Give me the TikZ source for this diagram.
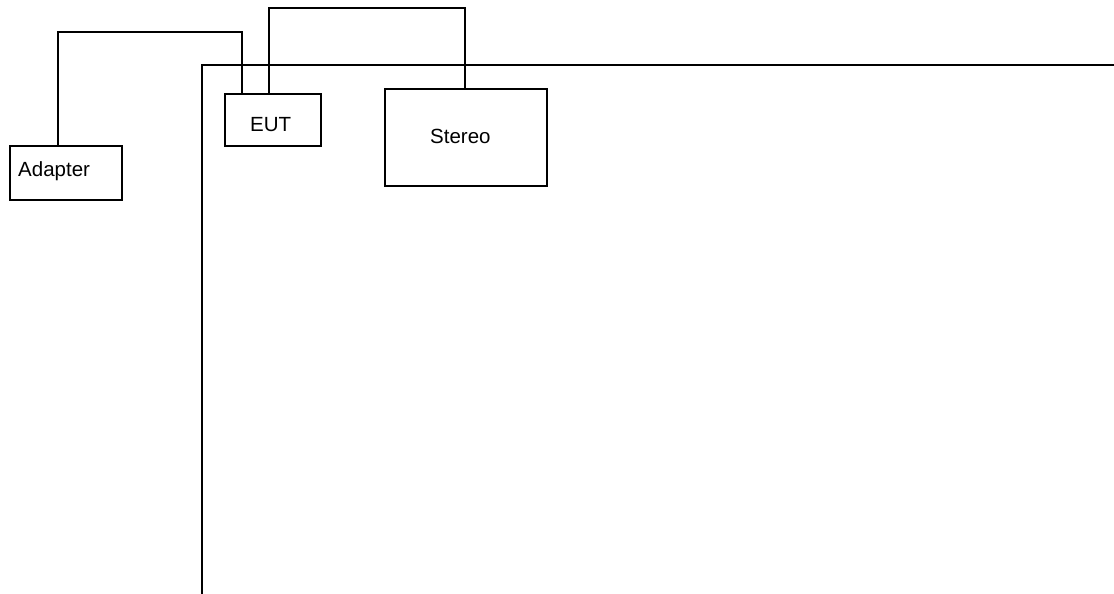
\documentclass[tikz,border=0pt]{standalone}
\usepackage{fontspec}
\setmainfont{Liberation Sans}
\begin{document}
\begin{tikzpicture}[x=1pt,y=-1pt,
  box/.style={draw, line width=1.5pt, inner sep=0pt, anchor=north west},
  wire/.style={line width=1.5pt},
  lbl/.style={inner sep=0pt, anchor=base west, font=\fontsize{20.5}{24}\selectfont}]
\useasboundingbox (0,0) rectangle (1114,594);
% outer frame
\draw[wire] (202,600) -- (202,65) -- (1120,65);
% boxes
\node[box, minimum width=112pt, minimum height=54pt] (adapter) at (9,145) {};
\node[box, minimum width=96pt, minimum height=52pt] (eut) at (224,93) {};
\node[box, minimum width=162pt, minimum height=97pt] (stereo) at (384,88) {};
% labels
\node[lbl] (tadapter) at (18,176) {Adapter};
\node[lbl] (teut) at (250,131) {EUT};
\node[lbl] (tstereo) at (430,143) {Stereo};
% wire ports
\coordinate (pa) at (adapter.north west -| 58,0);
\coordinate (pe1) at (eut.north west -| 242,0);
\coordinate (pe2) at (eut.north west -| 269,0);
\coordinate (ps) at (stereo.north west -| 465,0);
\coordinate (ka) at (58,32);
\coordinate (kb) at (242,32);
\coordinate (kc) at (269,8);
\coordinate (kd) at (465,8);
\draw[wire] (pa) -- (ka) -- (kb) -- (pe1);
\draw[wire] (pe2) -- (kc) -- (kd) -- (ps);
\end{tikzpicture}
\end{document}
